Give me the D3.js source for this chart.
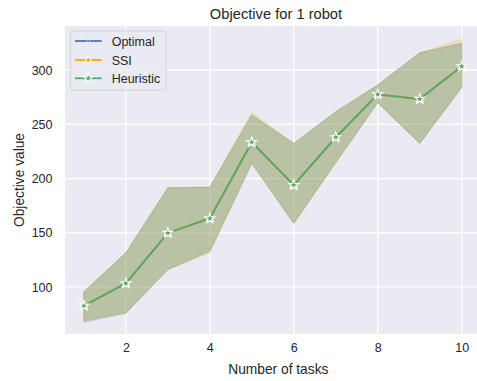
<!DOCTYPE html>
<html>
<head>
<meta charset="utf-8">
<script src="https://cdn.jsdelivr.net/npm/d3@7"></script>
<style>
  html, body { margin: 0; padding: 0; background: #ffffff; }
  svg { display: block; }
  text { font-family: "Liberation Sans", Arial, sans-serif; fill: #262626; }
</style>
</head>
<body>
<svg id="chart" width="477" height="381"></svg>
<script>
// Number of tasks on the x axis
const tasks = [1, 2, 3, 4, 5, 6, 7, 8, 9, 10];

// Mean objective value and 95% interval per method
const optimalMean = [82.8, 103.4, 149.8, 163.3, 233.4, 194.0, 238.0, 277.6, 273.3, 303.4];
const optimalLow  = [67.5, 75.8, 116.0, 133.0, 214.0, 158.7, 215.0, 269.9, 232.4, 284.0];
const optimalHigh = [95.7, 131.6, 191.5, 191.9, 258.5, 232.4, 261.6, 286.2, 316.0, 324.6];

const ssiMean = [82.8, 103.4, 149.8, 163.3, 233.4, 194.0, 238.0, 277.6, 273.3, 303.4];
const ssiLow  = [69.0, 76.0, 116.0, 131.3, 214.0, 158.7, 214.0, 269.9, 232.4, 284.0];
const ssiHigh = [95.7, 131.6, 191.5, 192.2, 261.0, 232.4, 261.6, 286.2, 316.0, 328.5];

const heuristicMean = [82.8, 103.4, 149.8, 163.3, 233.4, 194.0, 238.0, 277.6, 273.3, 303.4];
const heuristicLow  = [69.0, 76.3, 116.3, 133.5, 214.0, 158.7, 215.0, 269.9, 232.4, 284.0];
const heuristicHigh = [95.7, 131.6, 191.5, 191.9, 258.5, 232.4, 261.6, 286.2, 316.0, 324.6];

const xTicks = [2, 4, 6, 8, 10];
const yTicks = [100, 150, 200, 250, 300];

const seriesNames = ["Optimal", "SSI", "Heuristic"];
const seriesColors = ["#4c72b0", "#ffa500", "#55a868"];

const series = [
  { name: seriesNames[0], color: seriesColors[0], mean: optimalMean, low: optimalLow, high: optimalHigh, marker: "dot" },
  { name: seriesNames[1], color: seriesColors[1], mean: ssiMean, low: ssiLow, high: ssiHigh, marker: "triangle" },
  { name: seriesNames[2], color: seriesColors[2], mean: heuristicMean, low: heuristicLow, high: heuristicHigh, marker: "star" }
];

const svg = d3.select("#chart");
const plot = { left: 65, top: 26, right: 480.6, bottom: 334 };

const x = d3.scaleLinear().domain([0.55, 10.45]).range([plot.left, plot.right]);
const y = d3.scaleLinear().domain([56.7, 340.6]).range([plot.bottom, plot.top]);

// Axes background
svg.append("rect")
  .attr("x", plot.left).attr("y", plot.top)
  .attr("width", plot.right - plot.left).attr("height", plot.bottom - plot.top)
  .attr("fill", "#eaeaf2");

// Grid
const grid = svg.append("g");
grid.selectAll("line.gx").data(xTicks).enter().append("line")
  .attr("x1", d => x(d)).attr("x2", d => x(d))
  .attr("y1", plot.top).attr("y2", plot.bottom)
  .attr("stroke", "#ffffff").attr("stroke-width", 1.2);
grid.selectAll("line.gy").data(yTicks).enter().append("line")
  .attr("x1", plot.left).attr("x2", plot.right)
  .attr("y1", d => y(d)).attr("y2", d => y(d))
  .attr("stroke", "#ffffff").attr("stroke-width", 1.2);

// Axis tick labels via d3 axes (no domain/tick lines)
const xAxis = svg.append("g")
  .attr("transform", `translate(0,${plot.bottom})`)
  .call(d3.axisBottom(x).tickValues(xTicks).tickSize(0).tickPadding(9).tickFormat(d3.format("d")));
xAxis.select(".domain").remove();
xAxis.selectAll("text").attr("font-size", 12.5).attr("font-family", "Liberation Sans, Arial, sans-serif").attr("fill", "#262626");

const yAxis = svg.append("g")
  .attr("transform", `translate(${plot.left},0)`)
  .call(d3.axisLeft(y).tickValues(yTicks).tickSize(0).tickPadding(12.5).tickFormat(d3.format("d")));
yAxis.select(".domain").remove();
yAxis.selectAll("text").attr("font-size", 12.5).attr("font-family", "Liberation Sans, Arial, sans-serif").attr("fill", "#262626");

// Lines and confidence bands
const line = d3.line().x((d, i) => x(tasks[i])).y(d => y(d));
const band = d3.area()
  .x(d => x(d.t)).y0(d => y(d.lo)).y1(d => y(d.hi));

const starPath = d3.symbol().type(d3.symbolStar).size(30)();
const triPath = d3.symbol().type(d3.symbolTriangle).size(20)();
const dotPath = d3.symbol().type(d3.symbolCircle).size(6)();
function markerPath(m) { return m === "star" ? starPath : m === "triangle" ? triPath : dotPath; }

series.forEach(s => {
  svg.append("path")
    .attr("d", line(s.mean))
    .attr("fill", "none")
    .attr("stroke", s.color)
    .attr("stroke-width", 1.75);
  const pts = tasks.map((t, i) => ({ t, lo: s.low[i], hi: s.high[i] }));
  svg.append("path")
    .attr("d", band(pts))
    .attr("fill", s.color).attr("fill-opacity", 0.2)
    .attr("stroke", s.color).attr("stroke-opacity", 0.2).attr("stroke-width", 1);
});

// Markers drawn on top of bands in series order
series.forEach(s => {
  svg.append("g").selectAll("path").data(s.mean).enter().append("path")
    .attr("d", markerPath(s.marker))
    .attr("transform", (d, i) => `translate(${x(tasks[i])},${y(d) + (s.marker === "triangle" ? 0.8 : 0)})`)
    .attr("fill", s.color)
    .attr("stroke", "#ffffff")
    .attr("stroke-width", s.marker === "dot" ? 0.5 : 1.1);
});

// Title and axis labels
svg.append("text")
  .attr("x", 276).attr("y", 18.5)
  .attr("text-anchor", "middle").attr("font-size", 14.7)
  .text("Objective for 1 robot");
svg.append("text")
  .attr("x", (plot.left + 461.7) / 2 + 15).attr("y", 374)
  .attr("text-anchor", "middle").attr("font-size", 13.75)
  .text("Number of tasks");
svg.append("text")
  .attr("transform", `translate(24,${(plot.top + plot.bottom) / 2}) rotate(-90)`)
  .attr("text-anchor", "middle").attr("font-size", 13.75)
  .text("Objective value");

// Legend
const legend = svg.append("g");
legend.append("rect")
  .attr("x", 70.7).attr("y", 31).attr("width", 95.3).attr("height", 59)
  .attr("rx", 3).attr("fill", "#eaeaf2").attr("fill-opacity", 0.8)
  .attr("stroke", "#cccccc").attr("stroke-width", 0.8);
const rowY = [41, 60, 78.3];
series.forEach((s, i) => {
  const g = legend.append("g");
  g.append("line")
    .attr("x1", 75).attr("x2", 101.7).attr("y1", rowY[i]).attr("y2", rowY[i])
    .attr("stroke", s.color).attr("stroke-width", 1.75);
  g.append("path")
    .attr("d", markerPath(s.marker))
    .attr("transform", `translate(88.3,${rowY[i]})`)
    .attr("fill", s.color).attr("stroke", "#ffffff")
    .attr("stroke-width", s.marker === "dot" ? 0.5 : 1.1);
  g.append("text")
    .attr("x", 111.7).attr("y", rowY[i] + 4.5)
    .attr("font-size", 12.5)
    .text(s.name);
});
</script>
</body>
</html>
